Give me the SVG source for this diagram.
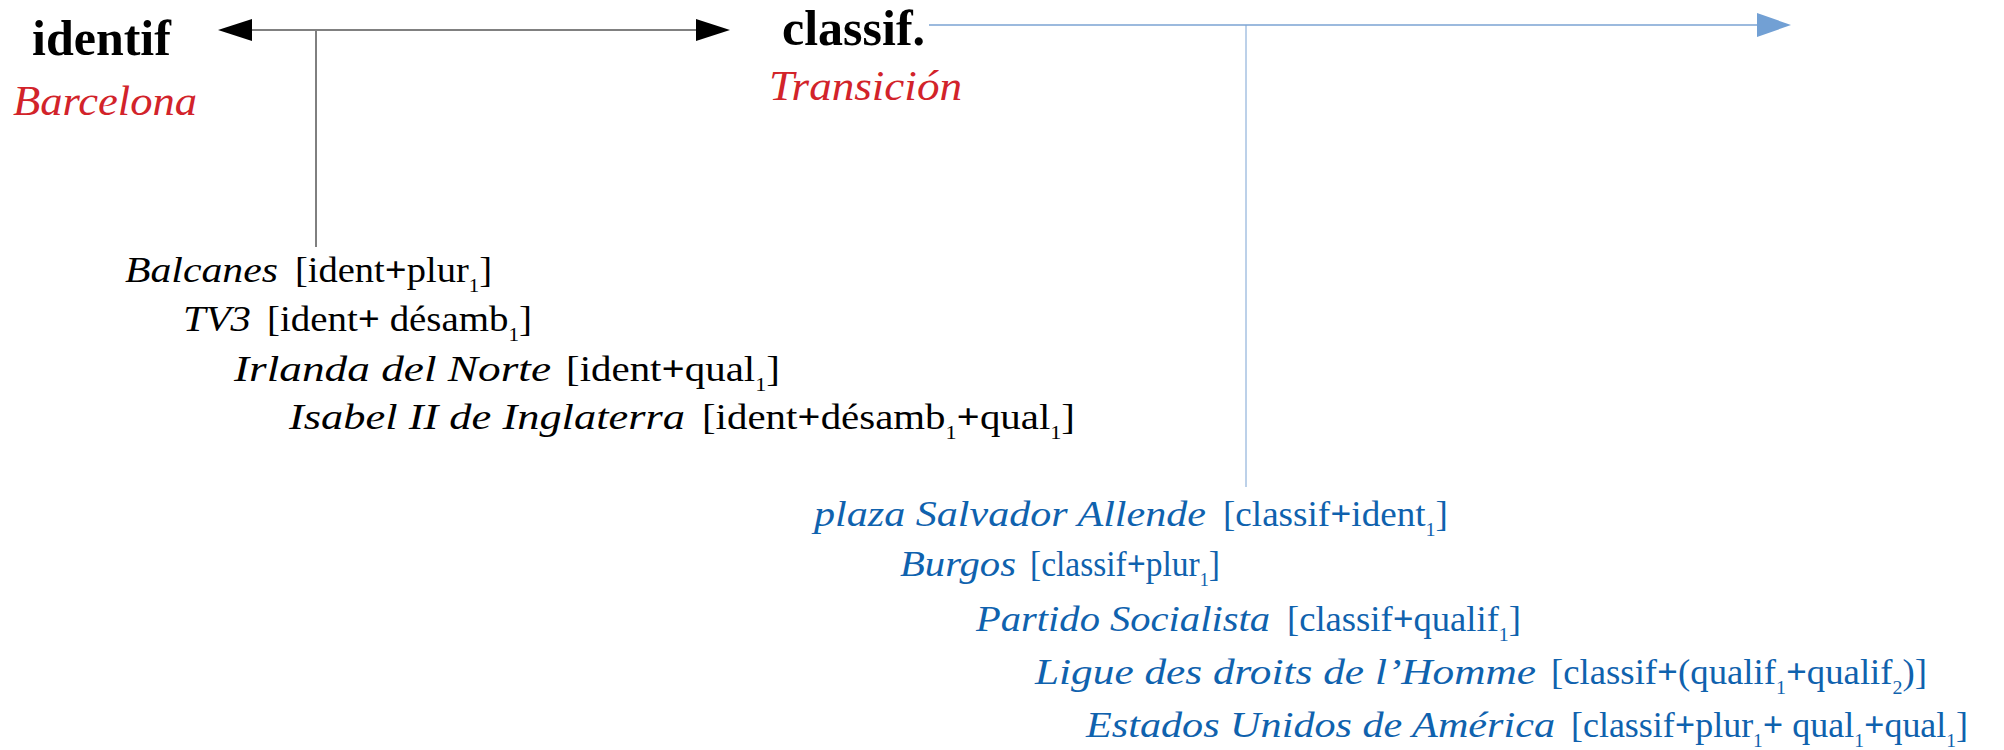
<svg xmlns="http://www.w3.org/2000/svg" width="2004" height="750" viewBox="0 0 2004 750">
<style>
text{font-family:"Liberation Serif","Times New Roman",serif}
.title{font-size:50px;font-weight:bold;fill:#000}
.red{font-size:42px;font-style:italic;fill:#d2232a}
.it{font-size:35px;font-style:italic}
.rg{font-size:35px}
.k{fill:#000}
.bl{fill:#0f62ae}
.b{font-weight:bold}
.sub{font-size:19px}
</style>
<defs>
<marker id="ahK" markerUnits="userSpaceOnUse" markerWidth="34" markerHeight="22" refX="0" refY="11" orient="auto-start-reverse" viewBox="0 0 34 22"><path d="M0,0 L34,11 L0,22 z" fill="#000"/></marker>
<marker id="ahB" markerUnits="userSpaceOnUse" markerWidth="34" markerHeight="24" refX="0" refY="12" orient="auto" viewBox="0 0 34 24"><path d="M0,0 L34,12 L0,24 z" fill="#72a0d4"/></marker>
</defs>
<g id="connectors">
<line x1="252" y1="30" x2="696" y2="30" stroke="#808080" stroke-width="2" marker-start="url(#ahK)" marker-end="url(#ahK)"/>
<line x1="316" y1="31" x2="316" y2="247" stroke="#000" stroke-width="1"/>
<line x1="929" y1="25" x2="1757" y2="25" stroke="#7ba3d3" stroke-width="1.5" marker-end="url(#ahB)"/>
<line x1="1246" y1="25" x2="1246" y2="487" stroke="#7ba3d3" stroke-width="1"/>
</g>
<g id="identif">
<text class="title" x="32" y="55">identif</text>
<text class="red" x="13" y="115" textLength="184" lengthAdjust="spacingAndGlyphs">Barcelona</text>
</g>
<g id="classif">
<text class="title" x="782" y="45">classif.</text>
<text class="red" x="769" y="100" textLength="193" lengthAdjust="spacingAndGlyphs">Transición</text>
</g>
<g id="balcanes">
<text class="it k" x="125" y="282" textLength="153" lengthAdjust="spacingAndGlyphs">Balcanes</text>
<text class="rg k" x="295" y="282" textLength="197" lengthAdjust="spacingAndGlyphs">[ident<tspan class="b">+</tspan>plur<tspan class="sub" dy="10">1</tspan><tspan dy="-10">]</tspan></text>
</g>
<g id="tv3">
<text class="it k" x="183" y="331" textLength="68" lengthAdjust="spacingAndGlyphs">TV3</text>
<text class="rg k" x="267" y="331" textLength="265" lengthAdjust="spacingAndGlyphs">[ident<tspan class="b">+</tspan> désamb<tspan class="sub" dy="10">1</tspan><tspan dy="-10">]</tspan></text>
</g>
<g id="irlanda">
<text class="it k" x="234" y="381" textLength="317" lengthAdjust="spacingAndGlyphs">Irlanda del Norte</text>
<text class="rg k" x="566" y="381" textLength="214" lengthAdjust="spacingAndGlyphs">[ident<tspan class="b">+</tspan>qual<tspan class="sub" dy="10">1</tspan><tspan dy="-10">]</tspan></text>
</g>
<g id="isabel">
<text class="it k" x="289" y="429" textLength="396" lengthAdjust="spacingAndGlyphs">Isabel II de Inglaterra</text>
<text class="rg k" x="702" y="429" textLength="373" lengthAdjust="spacingAndGlyphs">[ident<tspan class="b">+</tspan>désamb<tspan class="sub" dy="10">1</tspan><tspan class="b" dy="-10">+</tspan>qual<tspan class="sub" dy="10">1</tspan><tspan dy="-10">]</tspan></text>
</g>
<g id="plaza">
<text class="it bl" x="814" y="526" textLength="392" lengthAdjust="spacingAndGlyphs">plaza Salvador Allende</text>
<text class="rg bl" x="1223" y="526" textLength="225" lengthAdjust="spacingAndGlyphs">[classif<tspan class="b">+</tspan>ident<tspan class="sub" dy="10">1</tspan><tspan dy="-10">]</tspan></text>
</g>
<g id="burgos">
<text class="it bl" x="900" y="576" textLength="116" lengthAdjust="spacingAndGlyphs">Burgos</text>
<text class="rg bl" x="1030" y="576" textLength="190" lengthAdjust="spacingAndGlyphs">[classif<tspan class="b">+</tspan>plur<tspan class="sub" dy="10">1</tspan><tspan dy="-10">]</tspan></text>
</g>
<g id="partido">
<text class="it bl" x="976" y="631" textLength="294" lengthAdjust="spacingAndGlyphs">Partido Socialista</text>
<text class="rg bl" x="1287" y="631" textLength="234" lengthAdjust="spacingAndGlyphs">[classif<tspan class="b">+</tspan>qualif<tspan class="sub" dy="10">1</tspan><tspan dy="-10">]</tspan></text>
</g>
<g id="ligue">
<text class="it bl" x="1035" y="684" textLength="501" lengthAdjust="spacingAndGlyphs">Ligue des droits de l’Homme</text>
<text class="rg bl" x="1551" y="684" textLength="376" lengthAdjust="spacingAndGlyphs">[classif<tspan class="b">+</tspan>(qualif<tspan class="sub" dy="10">1</tspan><tspan class="b" dy="-10">+</tspan>qualif<tspan class="sub" dy="10">2</tspan><tspan dy="-10">)]</tspan></text>
</g>
<g id="estados">
<text class="it bl" x="1086" y="737" textLength="469" lengthAdjust="spacingAndGlyphs">Estados Unidos de América</text>
<text class="rg bl" x="1571" y="737" textLength="397" lengthAdjust="spacingAndGlyphs">[classif<tspan class="b">+</tspan>plur<tspan class="sub" dy="10">1</tspan><tspan class="b" dy="-10">+</tspan> qual<tspan class="sub" dy="10">1</tspan><tspan class="b" dy="-10">+</tspan>qual<tspan class="sub" dy="10">1</tspan><tspan dy="-10">]</tspan></text>
</g>
</svg>
